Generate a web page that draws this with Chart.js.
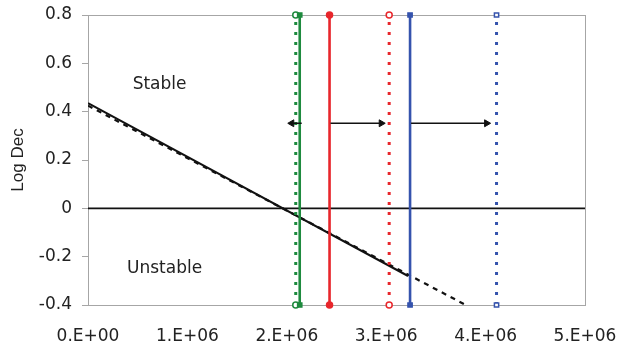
<!DOCTYPE html>
<html>
<head>
<meta charset="utf-8">
<script src="https://cdn.jsdelivr.net/npm/chart.js@4.4.1/dist/chart.umd.min.js"></script>
<style>
  html, body { margin: 0; padding: 0; background: #fff; }
  canvas { display: block; }
</style>
</head>
<body>
<canvas id="chartContainer" width="619" height="343"></canvas>
<script>
// axis ranges and ticks
const xRange = [0, 5e6];
const yRange = [-0.4, 0.8];
const xStep = 1e6;
const yStep = 0.2;

// fitted log-dec lines (solid = measured, dashed = extrapolated)
const solidFitX = [0, 3.22e6];
const solidFitY = [0.435, -0.28];
const dashFitX = [0, 3.8e6];
const dashFitY = [0.425, -0.4];

// zero (stability boundary) line
const zeroX = [0, 5e6];
const zeroY = [0, 0];

// vertical speed markers
const vertColors = ["#1e8a3e", "#1e8a3e", "#e8262b", "#e8262b", "#3553ad", "#3553ad"];
const vertX = [2.13e6, 2.09e6, 2.43e6, 3.03e6, 3.24e6, 4.11e6];
const vertDotted = [false, true, false, true, false, true];
const vertMarker = ["rect", "circle", "circle", "circle", "rect", "rect"];

// shift arrows
const arrowFrom = [2.15e6, 2.44e6, 3.25e6];
const arrowTo = [2.05e6, 2.95e6, 4.01e6];
const arrowY = [0.352, 0.352, 0.352];

// region labels
const regionText = ["Stable", "Unstable"];
const regionX = [0.72e6, 0.77e6];
const regionY = [0.514, -0.251];

const pts = (xs, ys) => xs.map((x, i) => ({ x: x, y: ys[i] }));

const datasets = [];

datasets.push({
  data: pts(zeroX, zeroY),
  showLine: true,
  borderColor: "#111",
  borderWidth: 1.6,
  pointRadius: 0,
  order: 5,
});

datasets.push({
  data: pts(dashFitX, dashFitY),
  showLine: true,
  borderColor: "#111",
  borderWidth: 2.2,
  borderDash: [5, 5],
  pointRadius: 0,
  order: 4,
});

datasets.push({
  data: pts(solidFitX, solidFitY),
  showLine: true,
  borderColor: "#111",
  borderWidth: 2,
  pointRadius: 0,
  order: 3,
});

vertX.forEach((x, i) => {
  const open = vertDotted[i];
  datasets.push({
    data: pts([x, x], yRange),
    showLine: true,
    borderColor: vertColors[i],
    borderWidth: open ? 3 : 2.6,
    borderDash: open ? [3, 7] : [],
    pointStyle: vertMarker[i],
    pointRadius: 3,
    pointBackgroundColor: open ? "#fff" : vertColors[i],
    pointBorderColor: vertColors[i],
    pointBorderWidth: 1.5,
    clip: false,
    order: 2,
  });
});

arrowFrom.forEach((x, i) => {
  const dir = arrowTo[i] > x ? 90 : -90;
  datasets.push({
    data: pts([x, arrowTo[i]], [arrowY[i], arrowY[i]]),
    showLine: true,
    borderColor: "#111",
    borderWidth: 1.5,
    pointStyle: "triangle",
    pointRadius: [0, 4],
    pointRotation: dir,
    pointBackgroundColor: "#111",
    pointBorderColor: "#111",
    pointBorderWidth: 1,
    order: 1,
  });
});

// plot box + region labels
const boxPlugin = {
  id: "box",
  beforeDatasetsDraw(chart) {
    const a = chart.chartArea;
    const ctx = chart.ctx;
    ctx.save();
    ctx.strokeStyle = "#a6a6a6";
    ctx.lineWidth = 1;
    ctx.strokeRect(a.left + 0.5, a.top + 0.5, a.right - a.left, a.bottom - a.top);
    ctx.restore();
  },
  afterDatasetsDraw(chart) {
    const ctx = chart.ctx;
    const xs = chart.scales.x, ys = chart.scales.y;
    ctx.save();
    ctx.fillStyle = "#222";
    ctx.font = "17px 'DejaVu Sans'";
    ctx.textAlign = "center";
    ctx.textBaseline = "middle";
    regionText.forEach((t, i) => {
      ctx.fillText(t, xs.getPixelForValue(regionX[i]), ys.getPixelForValue(regionY[i]));
    });
    ctx.restore();
  },
};

const config = {
  type: "scatter",
  data: { datasets: datasets },
  options: {
    responsive: false,
    animation: false,
    layout: { autoPadding: false, padding: { left: 0, right: 34, top: 15, bottom: 0 } },
    scales: {
      x: {
        type: "linear",
        min: xRange[0],
        max: xRange[1],
        grid: { display: false },
        border: { display: true, color: "#a6a6a6" },
        ticks: {
          stepSize: xStep,
          padding: 13,
          color: "#222",
          font: { family: "DejaVu Sans", size: 17 },
          maxRotation: 0,
          callback: (v) => (v / 1e6).toFixed(0) + ".E+" + (v === 0 ? "00" : "06"),
        },
        afterFit: (s) => { s.height = 38; s.paddingLeft = 0; s.paddingRight = 0; },
      },
      y: {
        min: yRange[0],
        max: yRange[1],
        grid: { drawOnChartArea: false, drawTicks: true, tickLength: 6, color: "#a6a6a6" },
        border: { display: true, color: "#a6a6a6" },
        ticks: {
          stepSize: yStep,
          padding: 10,
          color: "#222",
          font: { family: "DejaVu Sans", size: 17 },
          callback: (v) => (Math.abs(v) < 1e-9 ? "0" : v.toFixed(1)),
        },
        title: {
          display: true,
          text: "Log Dec",
          color: "#222",
          font: { family: "Liberation Sans", size: 17 },
          padding: { top: 8, bottom: 0 },
        },
        afterFit: (s) => { s.width = 88; s.paddingTop = 0; s.paddingBottom = 0; },
      },
    },
    plugins: {
      legend: { display: false },
      tooltip: { enabled: false },
    },
  },
  plugins: [boxPlugin],
};

const ctx = document.getElementById("chartContainer").getContext("2d");
const myChart = new Chart(ctx, config);
</script>
</body>
</html>
